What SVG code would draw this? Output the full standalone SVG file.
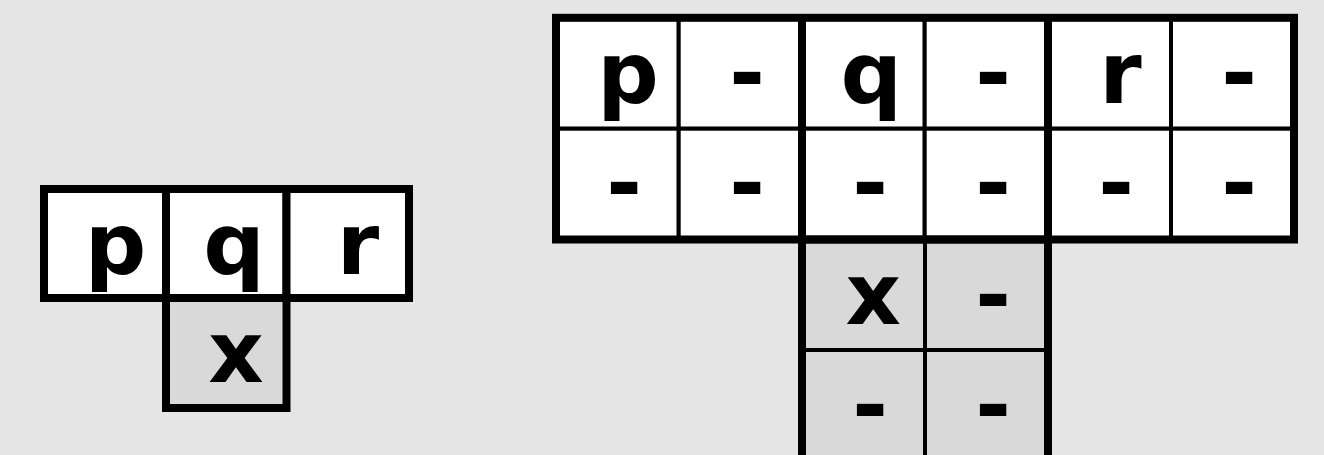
<svg xmlns="http://www.w3.org/2000/svg" width="1324" height="455" viewBox="0 0 1324 455">
<style>
.bg{fill:#e5e5e5}
.w{fill:#ffffff;stroke:#000;stroke-width:4}
.g{fill:#d9d9d9;stroke:#000;stroke-width:4}
.wk{fill:#ffffff;stroke:#000;stroke-width:8}
.gk{fill:#d9d9d9;stroke:#000;stroke-width:8}
.thick{fill:none;stroke:#000;stroke-width:8}
text{font-family:"DejaVu Sans",sans-serif;font-weight:bold;font-size:86px;text-anchor:middle;fill:#000}
</style>
<rect class="bg" x="0" y="0" width="1324" height="455"/>
<g id="left-table">
  <g id="L-p"><rect class="wk" x="44" y="189" width="122" height="109"/><text x="115.5" y="274.3">p</text></g>
  <g id="L-q"><rect class="wk" x="166" y="189" width="120.5" height="109"/><text x="234" y="274.3">q</text></g>
  <g id="L-r"><rect class="wk" x="286.5" y="189" width="122.5" height="109"/><text x="358" y="274.3">r</text></g>
  <g id="L-x"><rect class="gk" x="166" y="298" width="120.5" height="110"/><text x="236" y="381.7">x</text></g>
</g>
<g id="right-table">
  <g id="R-p"><rect class="w" x="556" y="17.8" width="122.7" height="110.9"/><text x="628" y="102.7">p</text></g>
  <g id="R-d1"><rect class="w" x="678.7" y="17.8" width="123.3" height="110.9"/><text x="747" y="102.7">-</text></g>
  <g id="R-q"><rect class="w" x="802" y="17.8" width="122.7" height="110.9"/><text x="871.3" y="102.7">q</text></g>
  <g id="R-d2"><rect class="w" x="924.7" y="17.8" width="123.3" height="110.9"/><text x="993" y="102.7">-</text></g>
  <g id="R-r"><rect class="w" x="1048" y="17.8" width="123" height="110.9"/><text x="1120.5" y="102.7">r</text></g>
  <g id="R-d3"><rect class="w" x="1171" y="17.8" width="123" height="110.9"/><text x="1239" y="102.7">-</text></g>
  <g id="R-d4"><rect class="w" x="556" y="128.7" width="122.7" height="110.8"/><text x="624" y="212.7">-</text></g>
  <g id="R-d5"><rect class="w" x="678.7" y="128.7" width="123.3" height="110.8"/><text x="747" y="212.7">-</text></g>
  <g id="R-d6"><rect class="w" x="802" y="128.7" width="122.7" height="110.8"/><text x="870" y="212.7">-</text></g>
  <g id="R-d7"><rect class="w" x="924.7" y="128.7" width="123.3" height="110.8"/><text x="993" y="212.7">-</text></g>
  <g id="R-d8"><rect class="w" x="1048" y="128.7" width="123" height="110.8"/><text x="1116" y="212.7">-</text></g>
  <g id="R-d9"><rect class="w" x="1171" y="128.7" width="123" height="110.8"/><text x="1239" y="212.7">-</text></g>
  <g id="R-x"><rect class="g" x="802" y="239.5" width="123" height="110.5"/><text x="873.3" y="324.3">x</text></g>
  <g id="R-d10"><rect class="g" x="925" y="239.5" width="123" height="110.5"/><text x="993" y="324.5">-</text></g>
  <g id="R-d11"><rect class="g" x="802" y="350" width="123" height="111"/><text x="870" y="434.6">-</text></g>
  <g id="R-d12"><rect class="g" x="925" y="350" width="123" height="111"/><text x="993" y="434.6">-</text></g>
  <g id="R-outline">
    <rect class="thick" x="556" y="17.8" width="738" height="221.7"/>
    <line class="thick" x1="802" y1="17.8" x2="802" y2="239.5"/>
    <line class="thick" x1="1048" y1="17.8" x2="1048" y2="239.5"/>
    <rect class="thick" x="802" y="239.5" width="246" height="260"/>
  </g>
</g>
</svg>
